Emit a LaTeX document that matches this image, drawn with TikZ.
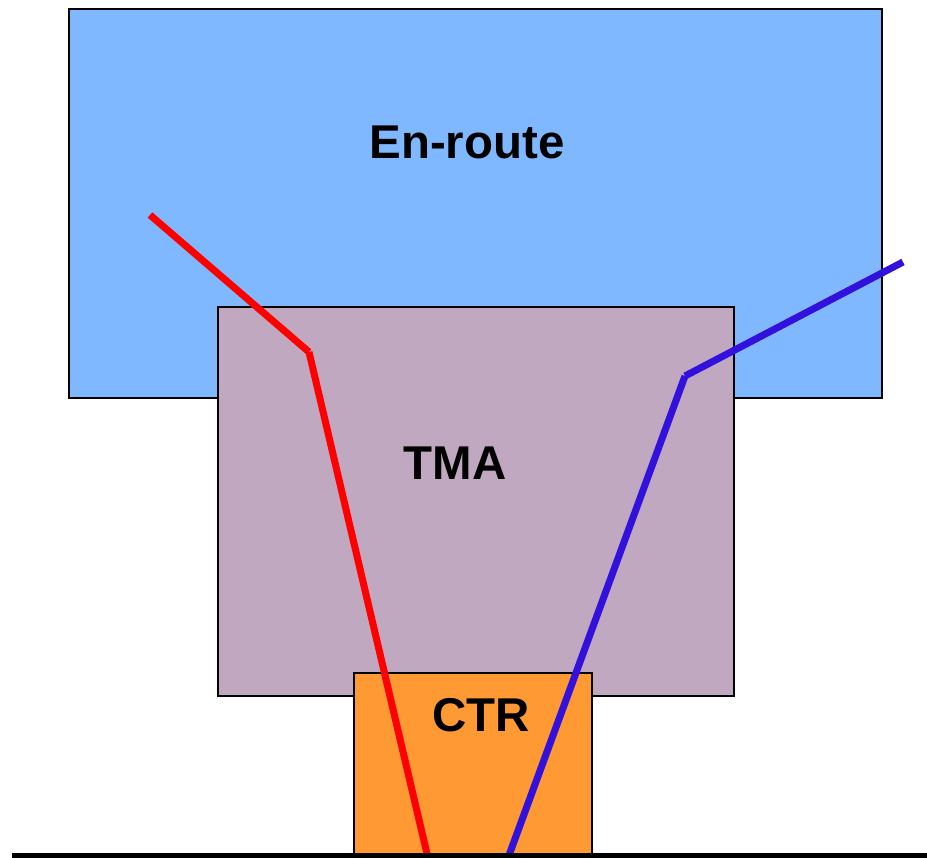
\documentclass[tikz,border=0pt]{standalone}
\usepackage{fontspec}
\setmainfont{Liberation Sans}
\usetikzlibrary{calc,positioning}
\definecolor{enroutecol}{RGB}{128,184,255}
\definecolor{tmacol}{RGB}{192,168,192}
\definecolor{ctrcol}{RGB}{255,153,51}
\definecolor{arrcol}{RGB}{255,0,0}
\definecolor{depcol}{RGB}{51,17,221}

\begin{document}
\begin{tikzpicture} [x=0.02cm,y=-0.02cm,{zone/.style={draw=black,line width=1.1pt}},{zlabel/.style={font=\fontsize{27}{29}\selectfont\bfseries,inner sep=0pt}},{track/.style={line width=4pt,line cap=butt}}]
	\useasboundingbox (0,0) rectangle (927,858);
	%%corners of the airspace blocks
	\coordinate (E1) at (69,9);
	\coordinate (E2) at (882,398);
	\coordinate (T1) at (218,307);
	\coordinate (T2) at (734,696);
	\coordinate (C1) at (354,673);
	\coordinate (C2) at (592,858);
	%%blocks
	\draw [zone,fill=enroutecol] (E1) rectangle (E2);
	\draw [zone,fill=tmacol] (T1) rectangle (T2);
	\draw [zone,fill=ctrcol] (C1) rectangle (C2);
	\node [zlabel] (enroute) at (467,142) {En-route};
	\node [zlabel] (tma) at (455,463) {TMA};
	\node [zlabel] (ctr) at (481,715) {CTR};
	%%arrival track
	\coordinate (a0) at (150,215);
	\coordinate (a1) at (309,352);
	\coordinate (a2) at (428,858);
	\draw [track,arrcol] (a0) -- (a1);
	\draw [track,arrcol] (a1) -- (a2);
	%%departure track
	\coordinate (d0) at (508,858);
	\coordinate (d1) at (685,376);
	\coordinate (d2) at (903,262);
	\draw [track,depcol] (d0) -- (d1);
	\draw [track,depcol] (d1) -- (d2);
	%%ground
	\coordinate (g0) at (12,855.5);
	\coordinate (g1) at (927,855.5);
	\draw [line width=2.8pt,black] (g0) -- (g1);
\end{tikzpicture}
\end{document}
